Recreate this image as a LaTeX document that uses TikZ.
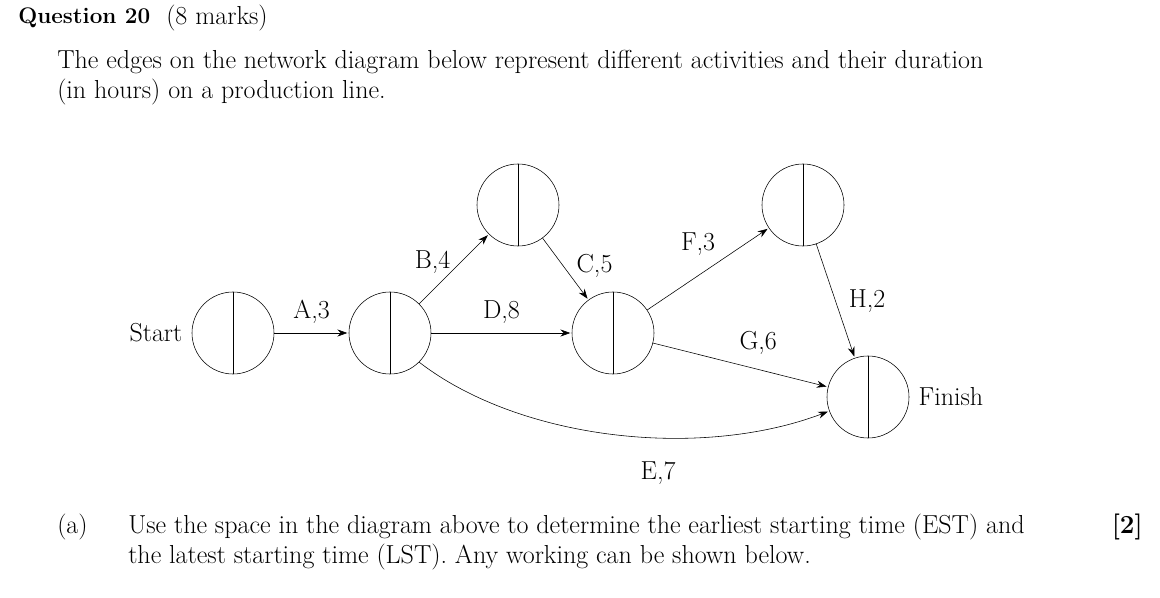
\documentclass[tikz,border=0pt]{standalone}
\usepackage{amsmath}
\usetikzlibrary{arrows.meta}
\begin{document}
\begin{tikzpicture}[x=0.025cm,y=-0.025cm,
    every node/.style={font=\fontsize{18.5}{22}\selectfont},
    event/.style={draw,circle,minimum size=82*0.025cm,inner sep=0pt},
    act/.style={-{Stealth[length=7pt,width=5pt]},shorten >=1pt}]
\useasboundingbox (0,0) rectangle (1160,598);
% heading
\node[anchor=west,inner sep=0pt,font=\fontsize{16}{20}\selectfont] (q) at (18,18) {\textbf{Question 20}};
\node[anchor=west,inner sep=0pt] (m) at (166,18) {(8 marks)};
\node[anchor=west,inner sep=0pt] (l1) at (57,62) {The edges on the network diagram below represent different activities and their duration};
\node[anchor=west,inner sep=0pt] (l2) at (57,92) {(in hours) on a production line.};
% events
\node[event] (s) at (233,333) {};
\node[event] (p) at (390,333) {};
\node[event] (t1) at (518,205) {};
\node[event] (c) at (613,333) {};
\node[event] (t2) at (803,205) {};
\node[event] (f) at (868,397) {};
\foreach \n in {s,p,t1,c,t2,f}
    \draw (\n.north) -- (\n.south);
\node[anchor=east] (st) at (s.west) {Start\,};
\node[anchor=west] (fi) at (f.east) {\,Finish};
% activities
\draw[act] (s) -- (p) node[midway,above=3pt] {A,3};
\draw[act] (p) -- (t1) node[pos=0.6,left=4pt] {B,4};
\draw[act] (t1) -- (c) node[pos=0.45,right=6pt] {C,5};
\draw[act] (p) -- (c) node[midway,above=3pt] {D,8};
\draw[act] (c) -- (t2) node[pos=0.6,above left=0pt] {F,3};
\draw[act] (t2) -- (f) node[pos=0.5,right=6pt] {H,2};
\draw[act] (c) -- (f) node[pos=0.45,above right=2pt] {G,6};
\draw[act] (p.-45) .. controls (520,440) and (700,460) .. (f.-160)
    node[pos=0.6,below=14pt] {E,7};
% part (a)
\node[anchor=west,inner sep=0pt] (a) at (57,527) {(a)};
\node[anchor=west,inner sep=0pt] (a1) at (128,527) {Use the space in the diagram above to determine the earliest starting time (EST) and};
\node[anchor=west,inner sep=0pt] (a2) at (128,557) {the latest starting time (LST). Any working can be shown below.};
\node[anchor=east,inner sep=0pt] (mk) at (1143,527) {\textbf{[2]}};
\end{tikzpicture}
\end{document}
